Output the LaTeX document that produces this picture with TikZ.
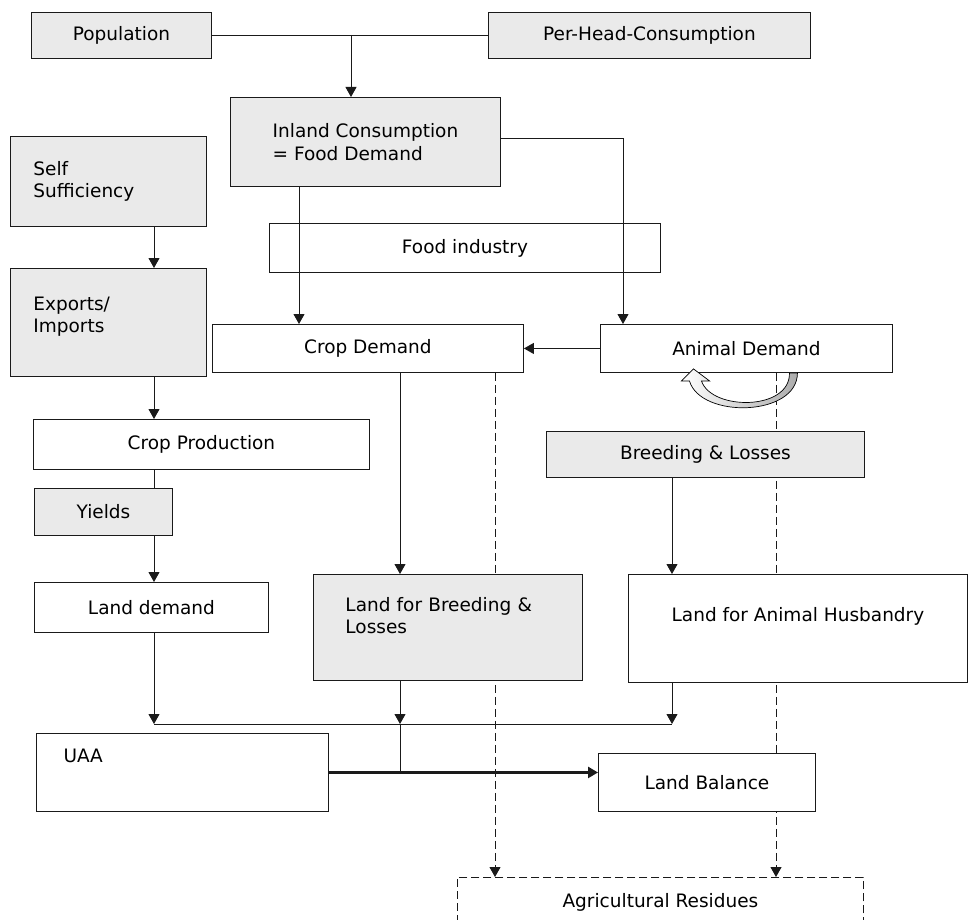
\documentclass[tikz,border=0pt]{standalone}
\usepackage{fontspec}
\setmainfont{DejaVu Sans}
\usetikzlibrary{positioning,arrows.meta,backgrounds}
\definecolor{cBoxGray}{HTML}{EAEAEA}
\definecolor{cLine}{HTML}{1A1A1A}
\tikzset{
  txt/.style={font=\fontsize{18.5}{22.5}\selectfont, text=black},
  box/.style={txt, draw=cLine, line width=0.9pt, anchor=north west,
              inner sep=0pt, align=center},
  boxGray/.style={box, fill=cBoxGray},
  boxWhite/.style={box, fill=white},
  boxOpen/.style={box},
  boxDash/.style={box, fill=white, dash pattern=on 8pt off 4pt},
  link/.style={line width=1pt, draw=cLine},
  flow/.style={link, -{Triangle[length=10pt,width=11pt]}},
  flowThick/.style={flow, line width=3pt},
  resid/.style={flow, dash pattern=on 8pt off 4pt},
}

\begin{document}
\begin{tikzpicture}[x=1pt, y=-1pt]
\useasboundingbox (0,0) rectangle (969,920);
\clip (0,0) rectangle (969,920);

% ---------- demand side ----------
\node[boxGray, minimum width=180pt, minimum height=46pt] (pop) at (31,12) {Population};
\node[boxGray, minimum width=322pt, minimum height=46pt] (phc) at (488,12) {Per-Head-Consumption};
\node[boxGray, minimum width=270pt, minimum height=89pt, align=left] (ic) at (230,97)
  {Inland Consumption\\= Food Demand};
\node[boxOpen, minimum width=391pt, minimum height=49pt] (fi) at (269,223) {Food industry};
\node[boxWhite, minimum width=311pt, minimum height=48pt] (cd) at (212,324) {Crop Demand};
\node[boxWhite, minimum width=292pt, minimum height=48pt] (ad) at (600,324) {Animal Demand};
\node[boxGray, minimum width=318pt, minimum height=46pt] (bl) at (546,431) {Breeding \& Losses};

% ---------- supply side ----------
\node[boxGray, minimum width=196pt, minimum height=90pt, text width=150pt, align=left] (ss) at (10,136)
  {Self\\Sufficiency};
\node[boxGray, minimum width=196pt, minimum height=108pt, text width=150pt, align=left,
      text depth=38pt] (ei) at (10,268)
  {Exports/\\Imports};
\node[boxWhite, minimum width=336pt, minimum height=50pt] (cp) at (33,419) {Crop Production};
\node[boxGray, minimum width=138pt, minimum height=47pt] (yi) at (34,488) {Yields};
\node[boxWhite, minimum width=234pt, minimum height=50pt] (ld) at (34,582) {Land demand};

% ---------- land ----------
\node[boxGray, minimum width=269pt, minimum height=106pt, text width=205pt, align=left,
      text depth=46pt] (lbr) at (313,574)
  {Land for Breeding \&\\Losses};
\node[boxWhite, minimum width=339pt, minimum height=108pt, text depth=28pt] (lah) at (628,574)
  {Land for Animal Husbandry};
\node[boxWhite, minimum width=292pt, minimum height=78pt] (uaa) at (36,733) {};
\node[txt, anchor=west] (uaaT) at ([xshift=24pt,yshift=-23pt]uaa.north west) {UAA};
\node[boxWhite, minimum width=217pt, minimum height=58pt] (lb) at (598,753) {Land Balance};
\node[boxDash, minimum width=406pt, minimum height=50pt] (ar) at (457,877) {Agricultural Residues};

% ---------- connectors ----------
\coordinate (popJoin) at (351,35);
\draw[link] (pop.east) -- (phc.west);
\draw[flow] (popJoin) -- (popJoin |- ic.north);
\draw[flow] ([yshift=-42pt]ic.north east) -| ([xshift=23pt]ad.north west);
\draw[flow] ([xshift=69pt]ic.south west) -- ([xshift=69pt]ic.south west |- cd.north);
\draw[flow] (ad.west) -- (ad.west -| cd.east);
\draw[flow] ([xshift=188pt]cd.south west) -- ([xshift=188pt]cd.south west |- lbr.north);
\draw[flow] ([xshift=126pt]bl.south west) -- ([xshift=126pt]bl.south west |- lah.north);

\draw[flow] ([xshift=144pt]ss.south west) -- ([xshift=144pt]ei.north west);
\draw[flow] ([xshift=144pt]ei.south west) -- ([xshift=144pt]ei.south west |- cp.north);
\draw[link] ([xshift=120pt]yi.north west) -- ([xshift=120pt]yi.north west |- cp.south);
\draw[flow] ([xshift=120pt]yi.south west) -- ([xshift=120pt]yi.south west |- ld.north);

\coordinate (landJoin) at (400,724);
\draw[link] ([xshift=120pt]ld.south west |- landJoin) -- ([xshift=44pt]lah.south west |- landJoin);
\draw[flow] ([xshift=120pt]ld.south west) -- ([xshift=120pt]ld.south west |- landJoin);
\draw[flow] ([xshift=87pt]lbr.south west) -- (landJoin);
\draw[flow] ([xshift=44pt]lah.south west) -- ([xshift=44pt]lah.south west |- landJoin);
\draw[link] (landJoin) -- (landJoin |- uaa.east);
\draw[flowThick] (uaa.east) -- (uaa.east -| lb.west);

% residues, behind the boxes
\begin{scope}[on background layer]
  \draw[resid] ([xshift=283pt]cd.south west) -- ([xshift=283pt]cd.south west |- ar.north);
  \draw[resid] ([xshift=176pt]ad.south west) -- ([xshift=176pt]ad.south west |- ar.north);
\end{scope}

% curved block arrow under Animal Demand
\begin{scope}[shift={(ad.south)}]
  \draw[line width=0.7pt, left color=white, right color=gray!65]
    (43,0) -- (51,0) .. controls (51,44) and (-46,46) .. (-57,8)
    -- (-65,8) -- (-53,-4) -- (-37,8) -- (-45,8)
    .. controls (-35,38) and (44,38) .. (43,0) -- cycle;
\end{scope}

\end{tikzpicture}
\end{document}
